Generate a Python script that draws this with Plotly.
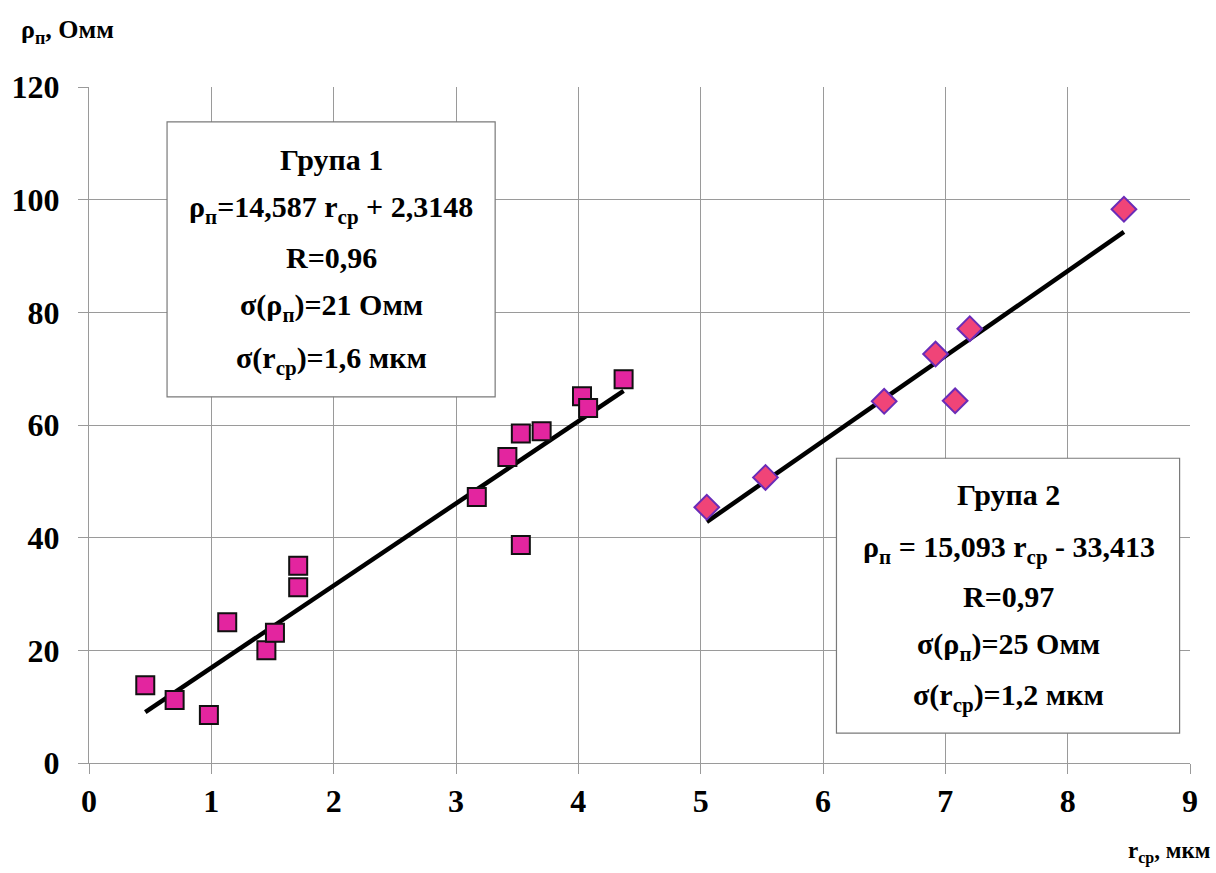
import numpy as np
import plotly.graph_objects as go

# Група 1: середній радіус (мкм) та питомий опір (Омм)
r_group1 = [0.46, 0.70, 0.98, 1.13, 1.45, 1.52, 1.71, 1.71,
            3.17, 3.42, 3.53, 3.53, 3.70, 4.03, 4.08, 4.37]
rho_group1 = [13.8, 11.2, 8.5, 25.0, 20.0, 23.1, 31.2, 35.0,
              47.2, 54.3, 38.7, 58.5, 58.9, 65.1, 63.0, 68.1]

# Група 2
r_group2 = [5.05, 5.53, 6.50, 6.92, 7.08, 7.20, 8.46]
rho_group2 = [45.4, 50.7, 64.2, 72.6, 64.3, 77.1, 98.3]

# Параметри лінійної регресії та статистики груп
slope1, intercept1, R1, sigma_rho1, sigma_r1 = 14.587, 2.3148, "0,96", "21", "1,6"
slope2, intercept2, R2, sigma_rho2, sigma_r2 = 15.093, -33.413, "0,97", "25", "1,2"

x_ticks = list(range(0, 10))
y_ticks = list(range(0, 121, 20))

FONT = "Liberation Serif"
GRID = "#9a9a9a"
BOX_SIZE = 30


def num(v):
    return str(abs(v)).replace(".", ",")


def b(s):
    return f"<b>{s}</b>"


def sub(s, size):
    """Нижній індекс: менший кегль і зсув базової лінії вниз."""
    small = round(size * 0.7)
    shift = round(size * 0.22)
    return f'<span style="font-size:{small}px;baseline-shift:-{shift}px">{s}</span>'


def trend(xs, k, c):
    x_line = np.array([min(xs), max(xs)])
    return x_line, k * x_line + c


fig = go.Figure()

x1, y1 = trend(r_group1, slope1, intercept1)
x2, y2 = trend(r_group2, slope2, intercept2)

fig.add_trace(go.Scatter(x=x1, y=y1, mode="lines",
                         line=dict(color="black", width=4.5), showlegend=False))
fig.add_trace(go.Scatter(x=x2, y=y2, mode="lines",
                         line=dict(color="black", width=4.5), showlegend=False))

fig.add_trace(go.Scatter(
    x=r_group1, y=rho_group1, mode="markers", showlegend=False,
    marker=dict(symbol="square", size=18, color="#e3259f",
                line=dict(color="#111111", width=2))))
fig.add_trace(go.Scatter(
    x=r_group2, y=rho_group2, mode="markers", showlegend=False,
    marker=dict(symbol="diamond", size=19, color="#f04478",
                line=dict(color="#6a2cb8", width=2))))

s = BOX_SIZE
rho_p = "ρ" + sub("п", s)
r_cp = "r" + sub("ср", s)

# Текстові блоки з рівняннями регресії
boxes = [
    dict(x0=0.638, x1=3.32, y0=65.0, y1=113.8, cx=1.98,
         ys=[107.2, 98.2, 89.8, 80.9, 71.5],
         lines=["Група 1",
                f"{rho_p}={num(slope1)} {r_cp} + {num(intercept1)}",
                f"R={R1}",
                f"σ({rho_p})={sigma_rho1} Омм",
                f"σ({r_cp})={sigma_r1} мкм"]),
    dict(x0=6.11, x1=8.915, y0=5.3, y1=54.1, cx=7.52,
         ys=[47.6, 37.9, 29.5, 20.6, 11.7],
         lines=["Група 2",
                f"{rho_p} = {num(slope2)} {r_cp} - {num(intercept2)}",
                f"R={R2}",
                f"σ({rho_p})={sigma_rho2} Омм",
                f"σ({r_cp})={sigma_r2} мкм"]),
]

for bx in boxes:
    fig.add_shape(type="rect", xref="x", yref="y", x0=bx["x0"], x1=bx["x1"],
                  y0=bx["y0"], y1=bx["y1"], layer="above",
                  fillcolor="white", line=dict(color="#7a7a7a", width=1.2))
    for txt, yy in zip(bx["lines"], bx["ys"]):
        fig.add_annotation(x=bx["cx"], y=yy, xref="x", yref="y", text=b(txt),
                           showarrow=False, xanchor="center", yanchor="middle",
                           font=dict(family=FONT, size=s, color="black"))

W, H = 1216, 873
L, R, T, B = 83, 26, 87, 110

# Підписи осей (позиції задано в пікселях сторінки)
fig.add_annotation(x=(13 - L) / (W - L - R), y=1 - (31 - T) / (H - T - B),
                   xref="paper", yref="paper",
                   text=b("ρ" + sub("п", 26) + ", Омм"),
                   showarrow=False, xanchor="left", yanchor="middle",
                   font=dict(family=FONT, size=26, color="black"))
fig.add_annotation(x=(1212 - L) / (W - L - R), y=1 - (853 - T) / (H - T - B),
                   xref="paper", yref="paper",
                   text=b("r" + sub("ср", 23) + ", мкм"),
                   showarrow=False, xanchor="right", yanchor="middle",
                   font=dict(family=FONT, size=23, color="black"))

axis_common = dict(gridcolor=GRID, showline=True, linecolor=GRID,
                   zeroline=False, ticks="outside", ticklen=10,
                   tickcolor=GRID,
                   tickfont=dict(family=FONT, size=32, color="black"))

fig.update_xaxes(range=[0, 9], tickvals=x_ticks,
                 ticktext=[b(t) for t in x_ticks], **axis_common)
fig.update_yaxes(range=[0, 120], tickvals=y_ticks,
                 ticktext=[b(t) for t in y_ticks], ticklabelstandoff=12,
                 **axis_common)

fig.update_layout(width=W, height=H, margin=dict(l=L, r=R, t=T, b=B),
                  plot_bgcolor="white")

fig.write_html("out.html")
